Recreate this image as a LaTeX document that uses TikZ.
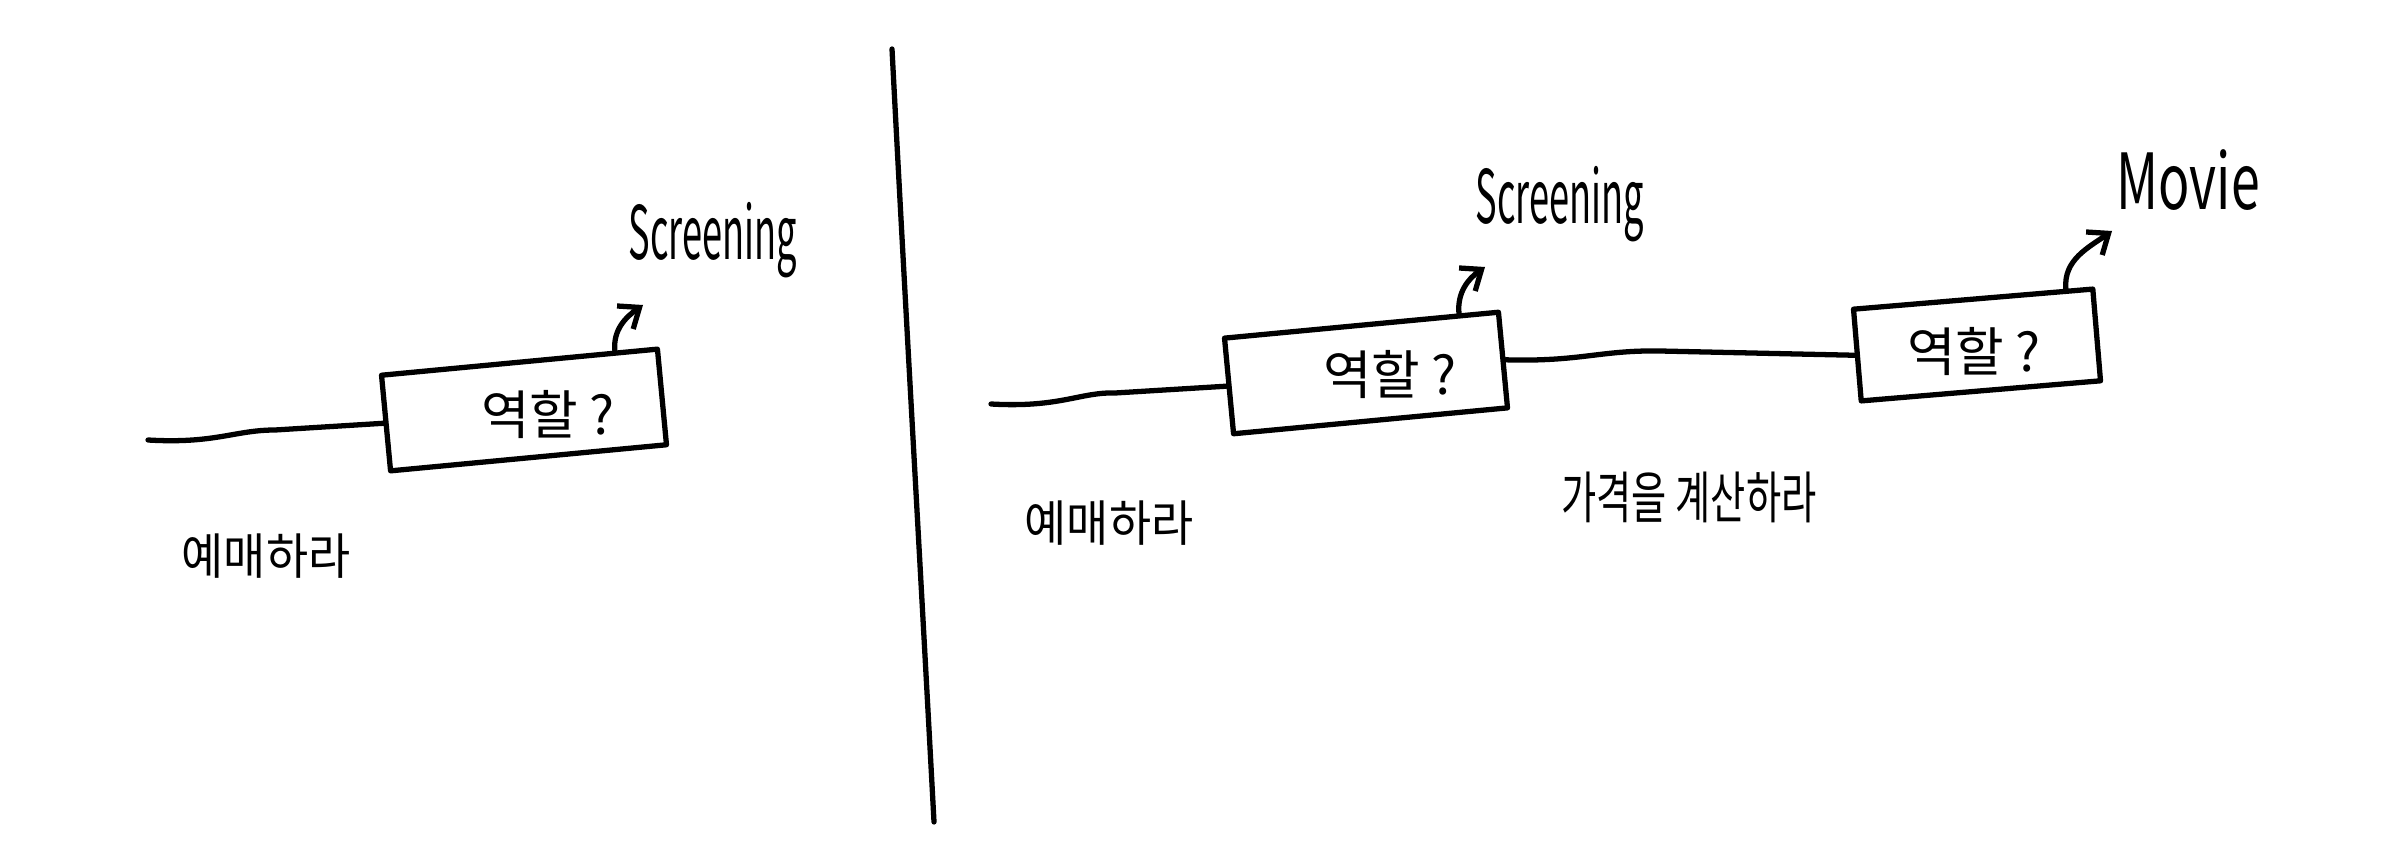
\documentclass[tikz,border=0pt]{standalone}
\usepackage{fontspec}
\setmainfont{Noto Sans CJK KR}
\usetikzlibrary{arrows.meta,calc}
\tikzset{
  ink/.style={line width=1.5pt, line cap=round, line join=round},
  rolebox/.style={draw, ink, inner sep=0pt},
  roletext/.style={font=\fontsize{15}{17}\selectfont, inner sep=0pt},
  kortext/.style={font=\fontsize{14}{16}\selectfont, inner sep=0pt},
  engtext/.style={font=\fontsize{21}{23}\selectfont, inner sep=0pt},
  hook/.style={ink, -{Straight Barb[length=5pt,width=8pt,line width=1.5pt]}}
}
\begin{document}
\begin{tikzpicture}[x=0.01cm,y=0.01cm]
\useasboundingbox[fill=white] (0,0) rectangle (2388,-852);

% ---- left panel ----
\node[rolebox, rotate=5.4, minimum width=2.77cm, minimum height=0.96cm] (b1) at (524,-410) {};
\node[roletext] (t1) at (548,-415) {역할 ?};
\coordinate (s1) at (148,-440);
\draw[ink] (s1) .. controls (215,-444) and (235,-430) .. (275,-430) -- (b1.west);
\coordinate (a1) at ($(b1.north west)!0.84!(b1.north east)$);
\node[engtext] (scr1) at (713,-240) {\scalebox{0.49}[1]{Screening}};
\coordinate (e1) at (643,-305);
\draw[hook] (a1) to[out=95,in=215] (e1);
\node[kortext] (k1) at (266,-556) {\scalebox{0.93}[1]{예매하라}};

% ---- divider ----
\coordinate (d1) at (892,-49);
\coordinate (d2) at (934,-822);
\draw[ink] (d1) .. controls (905,-300) and (920,-560) .. (d2);

% ---- right panel ----
\node[rolebox, rotate=5.4, minimum width=2.75cm, minimum height=0.96cm] (b2) at (1366,-373) {};
\node[roletext] (t2) at (1390,-375) {역할 ?};
\coordinate (s2) at (991,-404);
\draw[ink] (s2) .. controls (1060,-408) and (1080,-392) .. (1115,-393) -- (b2.west);
\coordinate (a2) at ($(b2.north west)!0.85!(b2.north east)$);
\node[engtext] (scr2) at (1560,-204) {\scalebox{0.49}[1]{Screening}};
\coordinate (e2) at (1485,-267);
\draw[hook] (a2) to[out=95,in=215] (e2);

\node[rolebox, rotate=4.8, minimum width=2.40cm, minimum height=0.92cm] (b3) at (1977,-345) {};
\node[roletext] (t3) at (1974,-352) {역할 ?};
\draw[ink] (b2.east) .. controls (1580,-362) and (1600,-350) .. (1660,-351) -- (b3.west);
\coordinate (a3) at ($(b3.north west)!0.88!(b3.north east)$);
\node[font=\fontsize{22}{24}\selectfont, inner sep=0pt] (mv) at (2188,-180) {\scalebox{0.67}[1]{Movie}};
\coordinate (e3) at (2112,-231);
\draw[hook] (a3) to[out=95,in=215] (e3);

\node[kortext] (k2) at (1109,-523) {\scalebox{0.93}[1]{예매하라}};
\node[font=\fontsize{16}{18}\selectfont, inner sep=0pt] (k3) at (1689,-497) {\scalebox{0.68}[1]{가격을 계산하라}};
\end{tikzpicture}
\end{document}
